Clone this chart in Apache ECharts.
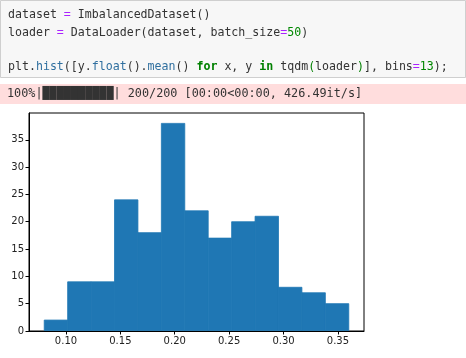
<!DOCTYPE html>
<html>
<head>
<meta charset="utf-8">
<script src="https://cdn.jsdelivr.net/npm/echarts@6/dist/echarts.min.js"></script>
<style>
html,body{margin:0;padding:0;background:#fff;}
#chart{width:466px;height:358px;}
</style>
</head>
<body>
<div id="chart"></div>
<script>
// ---- data ----
const binCounts = [2, 9, 9, 24, 18, 38, 22, 17, 20, 21, 8, 7, 5];
const dataMin = 0.08;
const dataMax = 0.36;
const xTickValues = [0.10, 0.15, 0.20, 0.25, 0.30, 0.35];
const yTickValues = [0, 5, 10, 15, 20, 25, 30, 35];
const codeLines = [
  [["dataset ", "t"], ["=", "op"], [" ImbalancedDataset()", "t"]],
  [["loader ", "t"], ["=", "op"], [" DataLoader(dataset, batch_size", "t"], ["=", "op"], ["50", "num"], [")", "t"]],
  [],
  [["plt.", "t"], ["hist", "fn"], ["([y.", "t"], ["float", "fn"], ["().", "t"], ["mean", "fn"], ["() ", "t"], ["for", "kw"], [" x, y ", "t"], ["in", "kw"], [" tqdm", "t"], ["(", "br"], ["loader", "t"], [")", "br"], ["], bins", "t"], ["=", "op"], ["13", "num"], [");", "t"]]
];
const progressText = "100%|██████████| 200/200 [00:00<00:00, 426.49it/s]";

// ---- build ----
const nBins = binCounts.length;
const binW = (dataMax - dataMin) / nBins;
const barData = binCounts.map((c, i) => [dataMin + i * binW, dataMin + (i + 1) * binW, c]);
const pad = (dataMax - dataMin) * 0.05;
const yMax = Math.max(...binCounts) * 1.05;

const mono = '"DejaVu Sans Mono", "Liberation Mono", monospace';
const rich = {
  t:   {fill: '#333333', fontFamily: mono, fontSize: 11.6},
  op:  {fill: '#aa22ff', fontFamily: mono, fontSize: 11.6},
  num: {fill: '#008800', fontFamily: mono, fontSize: 11.6},
  fn:  {fill: '#2f6f9f', fontFamily: mono, fontSize: 11.6},
  kw:  {fill: '#008000', fontFamily: mono, fontSize: 11.6, fontWeight: 'bold'},
  br:  {fill: '#008000', fontFamily: mono, fontSize: 11.6}
};
const lineY = [15, 33, 50, 67];
const graphics = [
  {type: 'rect', shape: {x: 0.5, y: 0.5, width: 465, height: 77}, style: {fill: '#f7f7f7', stroke: '#cfcfcf', lineWidth: 1}, z: -1},
  {type: 'rect', shape: {x: 0, y: 84, width: 466, height: 20}, style: {fill: '#ffdddd'}, z: -1},
  {type: 'text', x: 7, y: 94, style: {text: progressText, fontFamily: mono, fontSize: 11.8, fill: '#333333', verticalAlign: 'middle'}}
];
codeLines.forEach((segs, i) => {
  if (!segs.length) return;
  graphics.push({
    type: 'text', x: 8, y: lineY[i],
    style: {
      text: segs.map(s => '{' + s[1] + '|' + s[0] + '}').join(''),
      rich: rich, verticalAlign: 'middle', fontFamily: mono, fontSize: 11.6
    }
  });
});

const chart = echarts.init(document.getElementById('chart'), null, {renderer: 'canvas'});
chart.setOption({
  animation: false,
  backgroundColor: '#ffffff',
  graphic: graphics,
  grid: {left: 29, right: 102, top: 113, bottom: 27, show: true, borderColor: '#000000', borderWidth: 1, backgroundColor: 'transparent'},
  xAxis: {
    type: 'value', min: dataMin - pad, max: dataMax + pad,
    splitLine: {show: false},
    axisLine: {show: true, onZero: false, lineStyle: {color: '#000', width: 1}},
    axisTick: {show: true, length: 3.5, customValues: xTickValues, lineStyle: {color: '#000'}},
    axisLabel: {customValues: xTickValues, formatter: v => v.toFixed(2), color: '#222', fontFamily: '"DejaVu Sans", sans-serif', fontSize: 10, margin: 5}
  },
  yAxis: {
    type: 'value', min: 0, max: yMax,
    splitLine: {show: false},
    axisLine: {show: true, lineStyle: {color: '#000', width: 1}},
    axisTick: {show: true, length: 3.5, customValues: yTickValues, lineStyle: {color: '#000'}},
    axisLabel: {customValues: yTickValues, color: '#222', fontFamily: '"DejaVu Sans", sans-serif', fontSize: 10, margin: 5}
  },
  series: [{
    type: 'custom',
    data: barData,
    encode: {x: [0, 1], y: 2},
    z: 1,
    renderItem: function (params, api) {
      const p0 = api.coord([api.value(0), 0]);
      const p1 = api.coord([api.value(1), api.value(2)]);
      return {
        type: 'rect',
        shape: {x: p0[0], y: p1[1], width: p1[0] - p0[0], height: p0[1] - p1[1] - 0.5},
        style: {fill: '#1f77b4', stroke: '#1f77b4', lineWidth: 0.8}
      };
    }
  }]
});
</script>
</body>
</html>
